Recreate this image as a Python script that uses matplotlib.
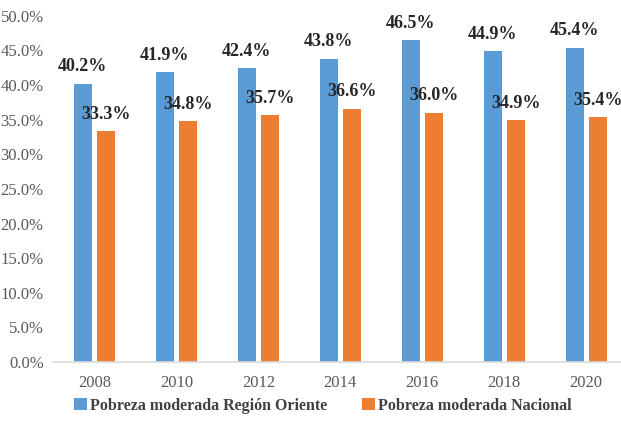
import numpy as np
import matplotlib.pyplot as plt

years = ["2008", "2010", "2012", "2014", "2016", "2018", "2020"]
oriente = [40.2, 41.9, 42.4, 43.8, 46.5, 44.9, 45.4]
nacional = [33.3, 34.8, 35.7, 36.6, 36.0, 34.9, 35.4]

plt.rcParams['font.family'] = ['Liberation Serif', 'DejaVu Serif']

fig = plt.figure(figsize=(6.21, 4.28), dpi=100)
ax = fig.add_axes([0.086, 0.154, 0.924, 0.809])

x = np.arange(len(years))
w = 0.22
off = 0.14
blue = '#5B9BD5'
orange = '#ED7D31'

ax.bar(x - off, oriente, w, color=blue, label='Pobreza moderada Región Oriente')
ax.bar(x + off, nacional, w, color=orange, label='Pobreza moderada Nacional')

for xi, v in zip(x, oriente):
    ax.text(xi - off, v + 1.2, f"{v:.1f}%", ha='center', va='bottom',
            fontsize=13, fontweight='bold', color='#262626')
for xi, v in zip(x, nacional):
    ax.text(xi + off, v + 1.2, f"{v:.1f}%", ha='center', va='bottom',
            fontsize=13, fontweight='bold', color='#262626')

ax.set_xlim(-0.5, len(years) - 0.5)
ax.set_ylim(0, 50)
ax.set_yticks(np.arange(0, 51, 5))
ax.set_yticklabels([f"{t:.1f}%" for t in np.arange(0, 51, 5)])
ax.set_xticks(x)
ax.set_xticklabels(years)
ax.tick_params(axis='both', length=0, labelsize=12, colors='#595959')
ax.tick_params(axis='x', pad=9)
ax.tick_params(axis='y', pad=7)

for s in ['top', 'right', 'left']:
    ax.spines[s].set_visible(False)
ax.spines['bottom'].set_color('#D9D9D9')
ax.spines['bottom'].set_linewidth(1.2)

leg = fig.legend(loc='lower center', bbox_to_anchor=(0.52, 0.0), ncol=2, frameon=False,
                 handlelength=0.8, handleheight=0.8, handletextpad=0.2, columnspacing=2.2,
                 prop={'weight': 'bold', 'size': 11.5})
for t in leg.get_texts():
    t.set_color('#404040')

fig.savefig('out.png', dpi=100)
